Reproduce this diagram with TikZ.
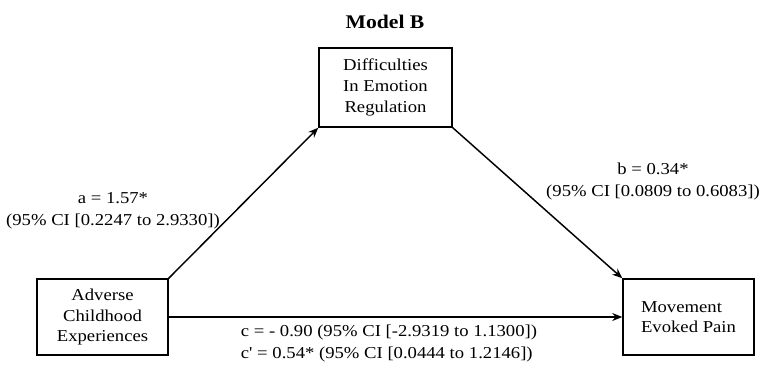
\documentclass[tikz,border=0pt]{standalone}
\usepackage{fontspec}
\setmainfont{Liberation Serif}[FakeStretch=1.12]
\newfontfamily\plainserif{Liberation Serif}[FakeStretch=1.12]
\usetikzlibrary{arrows.meta}
\begin{document}
\begin{tikzpicture}[x=0.75pt,y=-0.75pt,
  box/.style={draw, line width=1.1pt, inner sep=0pt, align=center, font=\fontsize{12.5}{15.5}\selectfont},
  lbl/.style={align=center, font=\fontsize{12.5}{16.5}\selectfont, inner sep=0pt},
  arr/.style={line width=1.1pt, -{Stealth[length=7.5pt,width=6pt]}}]
\useasboundingbox (0,0) rectangle (769,370);
\node[font=\bfseries\fontsize{14.5}{16}\selectfont, inner sep=0pt] (title) at (385,22) {Model B};
\node[box, minimum width=99.75pt, minimum height=59.25pt] (der) at (385.5,87.5) {Difficulties\\In Emotion\\Regulation};
\node[box, minimum width=98.25pt, minimum height=57pt] (ace) at (102.5,317) {Adverse\\Childhood\\Experiences};
\node[box, minimum width=98.25pt, minimum height=57pt, align=left] (mep) at (688.5,317) {Movement\\Evoked Pain};
\draw[arr] (ace.north east) -- (der.south west);
\draw[arr] (der.south east) -- (mep.north west);
\draw[arr] (ace.east) -- (mep.west);
\node[lbl] (la) at (113,210.5) {a = 1.57*\\(95\% CI [0.2247 to 2.9330])};
\node[lbl] (lb) at (653,181.5) {b = 0.34*\\(95\% CI [0.0809 to 0.6083])};
\node[lbl, align=left] (lc) at (389,343.5) {c = - 0.90 (95\% CI [-2.9319 to 1.1300])\\c{\plainserif'} = 0.54* (95\% CI [0.0444 to 1.2146])};
\end{tikzpicture}
\end{document}
